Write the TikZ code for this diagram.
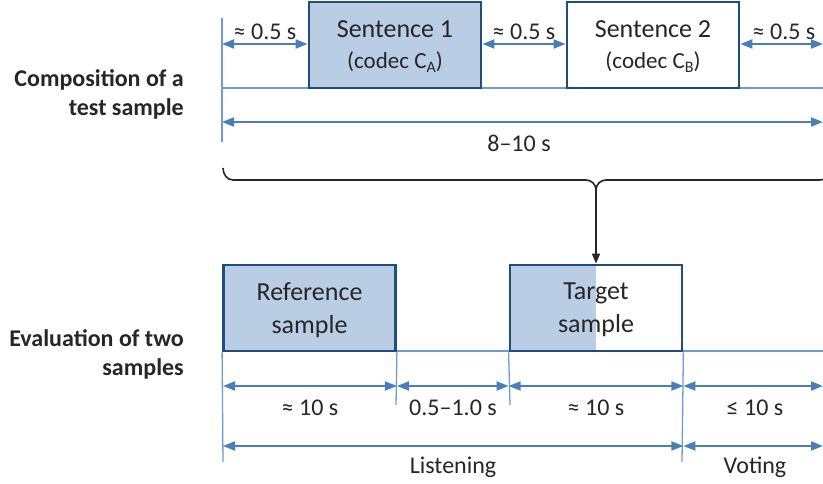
\documentclass[tikz,border=0pt]{standalone}
\usepackage{fontspec}
\setmainfont{Carlito}
\usetikzlibrary{arrows.meta}
\definecolor{dimblue}{HTML}{4A7EBB}
\definecolor{guideblue}{HTML}{6E9BD0}
\definecolor{edgeblue}{HTML}{1F4E79}
\definecolor{boxfill}{HTML}{B9CDE5}
\definecolor{ink}{HTML}{262626}
\newcommand\lowsub[1]{\raisebox{-0.35ex}{\fontsize{16}{16}\selectfont #1}}

\begin{document}
\begin{tikzpicture}[x=1pt,y=-1pt,
  guide/.style={draw=guideblue, line width=1.3pt},
  dimline/.style={draw=dimblue, line width=1.8pt,
    {Triangle[length=12pt,width=9pt]}-{Triangle[length=12pt,width=9pt]}},
  dimtext/.style={font=\fontsize{24}{24}\selectfont, text=ink, inner sep=0pt},
  sample/.style={draw=edgeblue, line width=2.8pt, minimum width=172pt,
    minimum height=86pt, inner sep=0pt, align=center, text=ink,
    text depth=0pt, font=\fontsize{26}{33}\selectfont},
  rowlabel/.style={font=\bfseries\fontsize{24}{29}\selectfont, align=right,
    anchor=east, text=ink, inner sep=0pt}]
\useasboundingbox (0,0) rectangle (823,484);
\clip (0,0) rectangle (823,484);

% ---------- composition of a test sample ----------
\node[rowlabel] (toplabel) at (184,94) {Composition of a\\test sample};

\coordinate (tl) at (222,18);
\coordinate (tlb) at (222,142);
\coordinate (tbase0) at (222,88);
\coordinate (tbase1) at (823,88);
\draw[guide] (tl) -- (tlb);
\draw[guide] (tbase0) -- (tbase1);

\node[sample, fill=boxfill] (s1) at (395,45)
  {Sentence 1\\[-2pt]{\fontsize{23}{23}\selectfont (codec C\lowsub{A})}};
\node[sample, fill=white] (s2) at (653,45)
  {Sentence 2\\[-2pt]{\fontsize{23}{23}\selectfont (codec C\lowsub{B})}};

\coordinate (g1a) at (222,44);
\coordinate (g3b) at (823,44);
\draw[dimline] (g1a) -- (s1.west |- g1a);
\draw[dimline] (s1.east |- g1a) -- (s2.west |- g1a);
\draw[dimline] (s2.east |- g1a) -- (g3b);
\node[dimtext] (gap1) at (265,32) {≈ 0.5 s};
\node[dimtext] (gap2) at (524,32) {≈ 0.5 s};
\node[dimtext] (gap3) at (784,32) {≈ 0.5 s};

\coordinate (tot0) at (222,122);
\coordinate (tot1) at (823,122);
\draw[dimline] (tot0) -- (tot1);
\node[dimtext] (total) at (519,143) {8–10 s};

% ---------- brace feeding the target sample ----------
\coordinate (bl) at (223,168);
\coordinate (tip) at (596,190);
\coordinate (br) at (830,170);
\draw[ink, line width=1.6pt]
  (bl) to[out=-90,in=180] (233,180) -- (586,180)
  to[out=0,in=90] (tip) to[out=90,in=180] (606,180) -- (820,180)
  to[out=0,in=-90] (br);

% ---------- evaluation of two samples ----------
\node[rowlabel] (botlabel) at (184,354) {Evaluation of two\\samples};

\coordinate (bbase0) at (223,351);
\coordinate (bbase1) at (823,351);
\draw[guide] (bbase0) -- (bbase1);

\node[sample, fill=boxfill] (ref) at (309.5,308) {Reference\\sample};
\node[sample, fill=white,
  path picture={\fill[boxfill] (path picture bounding box.south west)
    rectangle (path picture bounding box.north);}]
  (tgt) at (596,308) {Target\\sample};

\draw[ink, line width=1.6pt, -{Triangle[length=10pt,width=8pt]}]
  (tip) -- (tgt.north);

\coordinate (v1a) at (223,462);
\coordinate (v2a) at (396,405);
\coordinate (v3a) at (510,405);
\coordinate (v4a) at (682,462);
\draw[guide] (ref.south west) -- (v1a);
\draw[guide] (ref.south east) -- (v2a);
\draw[guide] (tgt.south west) -- (v3a);
\draw[guide] (tgt.south east) -- (v4a);

\coordinate (d0) at (223,386);
\coordinate (d4) at (823,386);
\draw[dimline] (d0) -- (ref.east |- d0);
\draw[dimline] (ref.east |- d0) -- (tgt.west |- d0);
\draw[dimline] (tgt.west |- d0) -- (tgt.east |- d0);
\draw[dimline] (tgt.east |- d0) -- (d4);
\node[dimtext] (len1) at (310,408) {≈ 10 s};
\node[dimtext] (len2) at (453,408) {0.5–1.0 s};
\node[dimtext] (len3) at (596,408) {≈ 10 s};
\node[dimtext] (len4) at (755,408) {≤ 10 s};

\coordinate (p0) at (223,446);
\coordinate (p2) at (823,446);
\draw[dimline] (p0) -- (tgt.east |- p0);
\draw[dimline] (tgt.east |- p0) -- (p2);
\node[dimtext] (listen) at (453,467) {Listening};
\node[dimtext] (vote) at (755,467) {Voting};
\end{tikzpicture}
\end{document}
